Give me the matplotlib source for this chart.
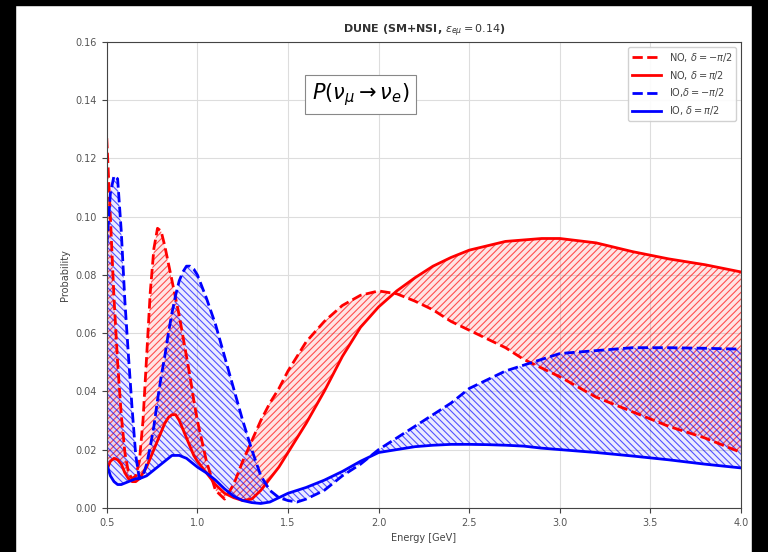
import matplotlib
matplotlib.use("Agg")
import matplotlib.pyplot as plt
from matplotlib.patches import Rectangle
import numpy as np

energy = [0.50, 0.52, 0.54, 0.56, 0.58, 0.60, 0.62, 0.64, 0.66, 0.68, 0.70, 0.72, 0.74, 0.76, 0.78,
          0.80, 0.82, 0.84, 0.86, 0.88, 0.90, 0.92, 0.94, 0.96, 0.98, 1.00, 1.05, 1.10, 1.15, 1.20,
          1.25, 1.30, 1.35, 1.40, 1.45, 1.50, 1.55, 1.60, 1.70, 1.80, 1.90, 2.00, 2.10, 2.20, 2.30,
          2.40, 2.50, 2.60, 2.70, 2.80, 2.90, 3.00, 3.20, 3.40, 3.60, 3.80, 4.00]

no_minus = [0.127, 0.100, 0.072, 0.050, 0.032, 0.019, 0.012, 0.010, 0.011, 0.016, 0.030, 0.052, 0.074, 0.089, 0.096,
            0.095, 0.090, 0.084, 0.078, 0.072, 0.066, 0.059, 0.052, 0.045, 0.037, 0.030, 0.016, 0.006, 0.003, 0.008,
            0.016, 0.023, 0.030, 0.036, 0.041, 0.047, 0.052, 0.057, 0.064, 0.0695, 0.073, 0.0745, 0.0735, 0.071, 0.068,
            0.064, 0.061, 0.058, 0.055, 0.051, 0.048, 0.045, 0.038, 0.033, 0.028, 0.024, 0.019]

no_plus = [0.013, 0.016, 0.017, 0.0165, 0.015, 0.012, 0.010, 0.009, 0.009, 0.010, 0.012, 0.014, 0.017, 0.020, 0.023,
           0.026, 0.029, 0.031, 0.032, 0.032, 0.030, 0.027, 0.024, 0.021, 0.018, 0.016, 0.012, 0.008, 0.005, 0.0035,
           0.0025, 0.003, 0.006, 0.010, 0.014, 0.019, 0.024, 0.029, 0.040, 0.052, 0.062, 0.069, 0.0745, 0.079, 0.083,
           0.086, 0.0885, 0.090, 0.0915, 0.092, 0.0925, 0.0925, 0.091, 0.088, 0.0855, 0.0835, 0.081]

io_minus = [0.090, 0.108, 0.114, 0.113, 0.095, 0.071, 0.052, 0.034, 0.018, 0.010, 0.011, 0.015, 0.021, 0.028, 0.037,
            0.045, 0.052, 0.060, 0.067, 0.073, 0.078, 0.081, 0.083, 0.083, 0.082, 0.080, 0.072, 0.063, 0.052, 0.041,
            0.030, 0.020, 0.011, 0.006, 0.0035, 0.0025, 0.002, 0.003, 0.006, 0.011, 0.015, 0.020, 0.024, 0.028, 0.032,
            0.036, 0.041, 0.044, 0.047, 0.049, 0.051, 0.053, 0.054, 0.055, 0.055, 0.0548, 0.0545]

io_plus = [0.015, 0.011, 0.009, 0.008, 0.008, 0.0085, 0.009, 0.0095, 0.010, 0.010, 0.0105, 0.011, 0.012, 0.013, 0.014,
           0.015, 0.016, 0.017, 0.018, 0.018, 0.018, 0.0175, 0.017, 0.016, 0.015, 0.014, 0.012, 0.0095, 0.0065, 0.004,
           0.0025, 0.0018, 0.0015, 0.002, 0.0035, 0.005, 0.006, 0.007, 0.0095, 0.0125, 0.016, 0.019, 0.020, 0.021, 0.0215,
           0.0218, 0.0218, 0.0217, 0.0215, 0.0212, 0.0205, 0.020, 0.019, 0.0178, 0.0165, 0.015, 0.0137]

labels = [r"NO, $\delta=-\pi/2$", r"NO, $\delta=\pi/2$", r"IO,$\delta=-\pi/2$", r"IO, $\delta=\pi/2$"]
x_ticks = [0.5, 1.0, 1.5, 2.0, 2.5, 3.0, 3.5, 4.0]
y_ticks = [0.00, 0.02, 0.04, 0.06, 0.08, 0.10, 0.12, 0.14, 0.16]

plt.rcParams['hatch.linewidth'] = 0.8

fig = plt.figure(figsize=(7.68, 5.52), dpi=100)
ax = fig.add_axes([0.139, 0.080, 0.826, 0.844])

E = np.array(energy)
ax.fill_between(E, no_minus, no_plus, facecolor=(1, 0, 0, 0.10), edgecolor=(1, 0, 0, 0.65),
                hatch='/////', linewidth=0)
ax.fill_between(E, io_minus, io_plus, facecolor=(0, 0, 1, 0.08), edgecolor=(0, 0, 1, 0.65),
                hatch='\\' * 5, linewidth=0)

ax.plot(E, no_minus, color='red', ls='--', lw=2, label=labels[0])
ax.plot(E, no_plus, color='red', ls='-', lw=2, label=labels[1])
ax.plot(E, io_minus, color='blue', ls='--', lw=2, label=labels[2])
ax.plot(E, io_plus, color='blue', ls='-', lw=2, label=labels[3])

ax.set_xlim(0.5, 4.0)
ax.set_ylim(0, 0.16)
ax.set_xticks(x_ticks)
ax.set_yticks(y_ticks)
ax.set_xticklabels([f"{v:.1f}" for v in x_ticks])
ax.set_yticklabels([f"{v:.2f}" for v in y_ticks])
ax.tick_params(labelsize=7, colors='#444444', labelcolor='#555555')
ax.grid(True, color='#dddddd', lw=0.8)
ax.set_axisbelow(True)
for s in ax.spines.values():
    s.set_color('#444444')

ax.set_xlabel("Energy [GeV]", fontsize=7, color='#444444')
ax.set_ylabel("Probability", fontsize=7, color='#444444')
ax.set_title(r"DUNE (SM+NSI, $\varepsilon_{e\mu}=0.14$)", fontsize=8, fontweight='bold', color='#333333')

ax.text(1.9, 0.142, r"$P(\nu_\mu \rightarrow \nu_e)$", fontsize=15, ha='center', va='center',
        bbox=dict(boxstyle='square,pad=0.3', facecolor='white', edgecolor='#888888', lw=0.8))

leg = ax.legend(loc='upper right', fontsize=7, framealpha=0.9, handlelength=3)
for t in leg.get_texts():
    t.set_color('#444444')

# black borders of the screenshot
fig.patches.append(Rectangle((0, 0), 15 / 768, 1, transform=fig.transFigure, color='black', zorder=-1))
fig.patches.append(Rectangle((0, 1 - 5 / 552), 1, 5 / 552, transform=fig.transFigure, color='black', zorder=-1))
fig.patches.append(Rectangle((752 / 768, 0), 16 / 768, 1, transform=fig.transFigure, color='black', zorder=-1))

fig.savefig("out.png", dpi=100)
